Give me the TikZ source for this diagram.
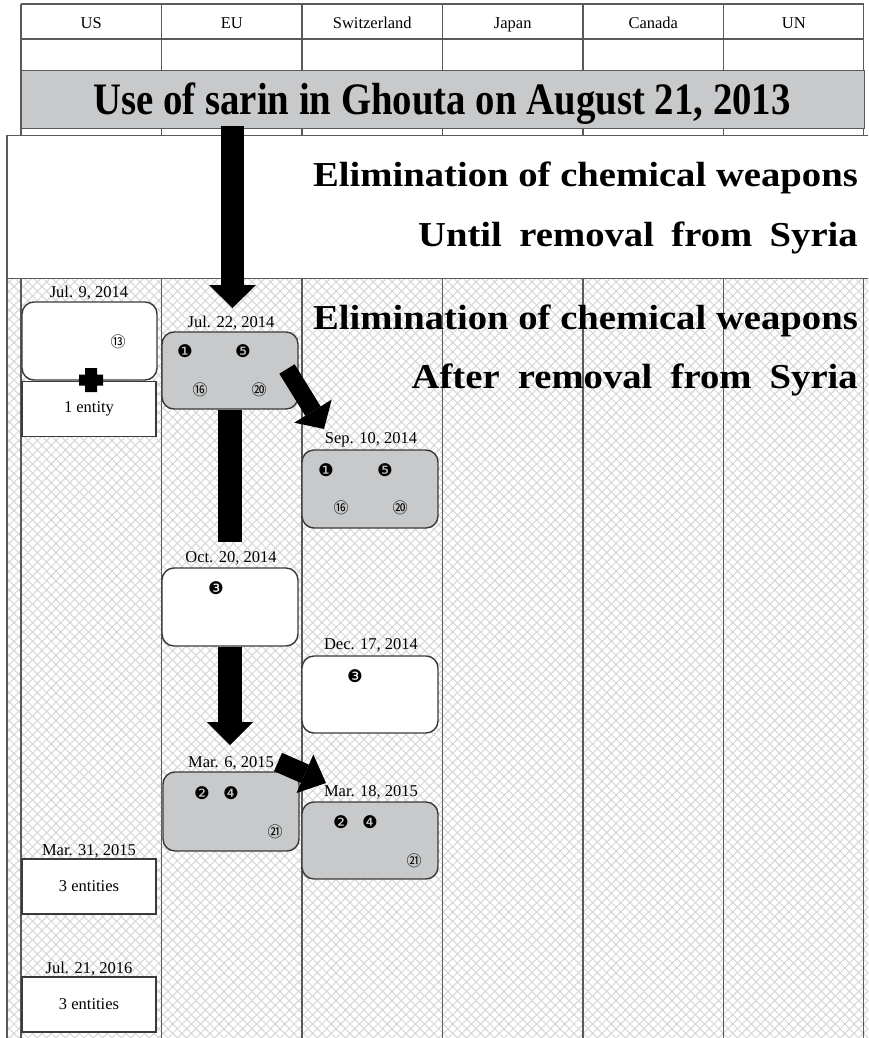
\documentclass[tikz,border=0pt]{standalone}
\usepackage{fontspec}
\usepackage{graphicx}
\setmainfont{Liberation Serif}
\newfontfamily\dingfont{DejaVu Sans}
\newfontfamily\cjkfont{Noto Sans CJK JP}
\usetikzlibrary{arrows.meta,patterns.meta}
\definecolor{linec}{HTML}{3A3A3A}
\definecolor{gridc}{HTML}{5A5A5A}
\definecolor{boxgray}{HTML}{C8C9CB}
\definecolor{hatchc}{HTML}{D6D6D6}
\tikzset{
  small/.style={font=\fontsize{16.5}{18}\selectfont, inner sep=0pt},
  datelbl/.style={small, anchor=base},
  colname/.style={small, anchor=base},
  rbox/.style={draw=linec, line width=1.4pt, rounded corners=12pt, minimum width=136pt, minimum height=78pt, inner sep=0pt},
  graybox/.style={rbox, fill=boxgray},
  whitebox/.style={rbox, fill=white},
  entbox/.style={draw=linec, line width=1.4pt, fill=white, minimum width=134pt, minimum height=55pt, inner sep=0pt, font=\fontsize{16.5}{18}\selectfont},
  negnum/.style={font=\dingfont\fontsize{17.5}{18}\selectfont, inner sep=0pt},
  posnum/.style={font=\cjkfont\fontsize{15}{15}\selectfont, inner sep=0pt},
  bigtext/.style={font=\fontsize{35}{40}\selectfont\bfseries, inner sep=0pt, anchor=base east},
  gridline/.style={draw=gridc, line width=1.1pt},
  fatbar/.style={draw=black, line width=#1, line cap=butt},
  fatarrow/.style n args={3}{draw=black, line width=#1, line cap=butt, -{Triangle[width=#2,length=#3,line width=0pt]}},
}
\begin{document}
\begin{tikzpicture}[x=1pt,y=-1pt]
\useasboundingbox (0,0) rectangle (868,1038);
\clip (0,0) rectangle (868,1038);
\fill[white] (0,0) rectangle (868,1038);

% hatched lower region
\fill[pattern={Lines[angle=45,distance=6.6pt,line width=1pt]}, pattern color=hatchc] (7,278) rectangle (870,1040);
\fill[pattern={Lines[angle=-45,distance=6.6pt,line width=1pt]}, pattern color=hatchc] (7,278) rectangle (870,1040);

% header table
\draw[gridline] (21,4) -- (863.5,4);
\draw[gridline] (21,39) -- (863.5,39);
\foreach \x in {21,161.5,302,442.5,583,723.5,863.5} {
  \draw[gridline] (\x,4) -- (\x,135);
  \draw[gridline] (\x,278) -- (\x,1040);
}
\draw[gridline] (7,135) -- (7,1040);

\node[colname] (hUS) at (91.25,28.5) {US};
\node[colname] (hEU) at (231.75,28.5) {EU};
\node[colname] (hCH) at (372.25,28.5) {Switzerland};
\node[colname] (hJP) at (512.75,28.5) {Japan};
\node[colname] (hCA) at (653.25,28.5) {Canada};
\node[colname] (hUN) at (793.75,28.5) {UN};

% sarin band
\node[draw=gridc, line width=1.2pt, fill=boxgray, minimum width=842.5pt, minimum height=58pt, inner sep=0pt, anchor=north west] (band) at (21,70) {};
\node[anchor=base, inner sep=0pt, font=\fontsize{45}{50}\selectfont\bfseries] (sarin) at (442,115) {\scalebox{0.862}[1]{Use of sarin in Ghouta on August 21, 2013}};

% white box
\node[draw=gridc, line width=1.3pt, fill=white, minimum width=875pt, minimum height=143pt, inner sep=0pt, anchor=north west] (until) at (7,135) {};
\node[bigtext] (elimA) at (858,186.5) {\scalebox{1.105}[1]{Elimination of chemical weapons}};
\node[bigtext] (untilT) at (858,246) {\scalebox{1.105}[1]{Until\hspace{0.45em}removal\hspace{0.45em}from\hspace{0.45em}Syria}};

% hatched region headings
\node[bigtext] (elimB) at (858,329) {\scalebox{1.105}[1]{Elimination of chemical weapons}};
\node[bigtext] (afterT) at (858,388) {\scalebox{1.105}[1]{After\hspace{0.47em}removal\hspace{0.47em}from\hspace{0.47em}Syria}};

% US column
\node[datelbl] (dJul9) at (89,297) {Jul. 9, 2014};
\node[whitebox, minimum width=135pt] (jul9) at (89.5,341) {};
\node[posnum] (n13) at (118,342) {⑬};
\node[entbox] (ent1) at (89,409) {1 entity};
\fill[black] (91,380) +(-6,-12) -- +(6,-12) -- +(6,-5.5) -- +(12,-5.5) -- +(12,5.5) -- +(6,5.5) -- +(6,12) -- +(-6,12) -- +(-6,5.5) -- +(-12,5.5) -- +(-12,-5.5) -- +(-6,-5.5) -- cycle;

\node[datelbl] (dMar31) at (89,855) {Mar. 31, 2015};
\node[entbox] (ent3a) at (89,886.5) {3 entities};
\node[datelbl] (dJul21) at (89,973) {Jul. 21, 2016};
\node[entbox] (ent3b) at (89,1004.5) {3 entities};

% EU column
\node[datelbl] (dJul22) at (231,327) {Jul. 22, 2014};
\node[graybox, minimum height=77pt] (jul22) at (230,370.5) {};
\node[negnum] at (185,351) {❶};
\node[negnum] at (243,351) {❺};
\node[posnum] at (200,390) {⑯};
\node[posnum] at (259,390) {⑳};

\node[datelbl] (dOct20) at (231,562) {Oct. 20, 2014};
\node[whitebox] (oct20) at (230,607) {};
\node[negnum] at (216,588) {❸};

\node[datelbl] (dMar6) at (231,767) {Mar. 6, 2015};
\node[graybox, minimum height=79pt] (mar6) at (231,811.5) {};
\node[negnum] at (202,793) {❷};
\node[negnum] at (231,793) {❹};
\node[posnum] at (275,832) {㉑};

% Switzerland column
\node[datelbl] (dSep10) at (371,443) {Sep. 10, 2014};
\node[graybox] (sep10) at (370,489) {};
\node[negnum] at (326,470) {❶};
\node[negnum] at (385,470) {❺};
\node[posnum] at (341,508) {⑯};
\node[posnum] at (400,508) {⑳};

\node[datelbl] (dDec17) at (371,649) {Dec. 17, 2014};
\node[whitebox, minimum height=77pt] (dec17) at (370,694.5) {};
\node[negnum] at (355,676) {❸};

\node[datelbl] (dMar18) at (371,796) {Mar. 18, 2015};
\node[graybox, minimum height=77pt] (mar18) at (370,840.5) {};
\node[negnum] at (341,822) {❷};
\node[negnum] at (370,822) {❹};
\node[posnum] at (414,861) {㉑};

% arrows
\coordinate (a1s) at (232.5,126);
\coordinate (a1e) at (232.5,308);
\draw[fatarrow={23pt}{47pt}{23pt}] (a1s) -- (a1e);

\coordinate (a2s) at (287,369);
\coordinate (a2e) at (324,429);
\draw[fatarrow={18pt}{44pt}{21pt}] (a2s) -- (a2e);

\draw[fatbar=24pt] (jul22.south -| 230,0) -- (230,542);

\coordinate (a4e) at (230,745);
\draw[fatarrow={24pt}{46pt}{23pt}] (oct20.south -| 230,0) -- (a4e);

\coordinate (a5s) at (278,762);
\coordinate (a5e) at (326,783);
\draw[fatarrow={20pt}{42pt}{23pt}] (a5s) -- (a5e);
\end{tikzpicture}
\end{document}
